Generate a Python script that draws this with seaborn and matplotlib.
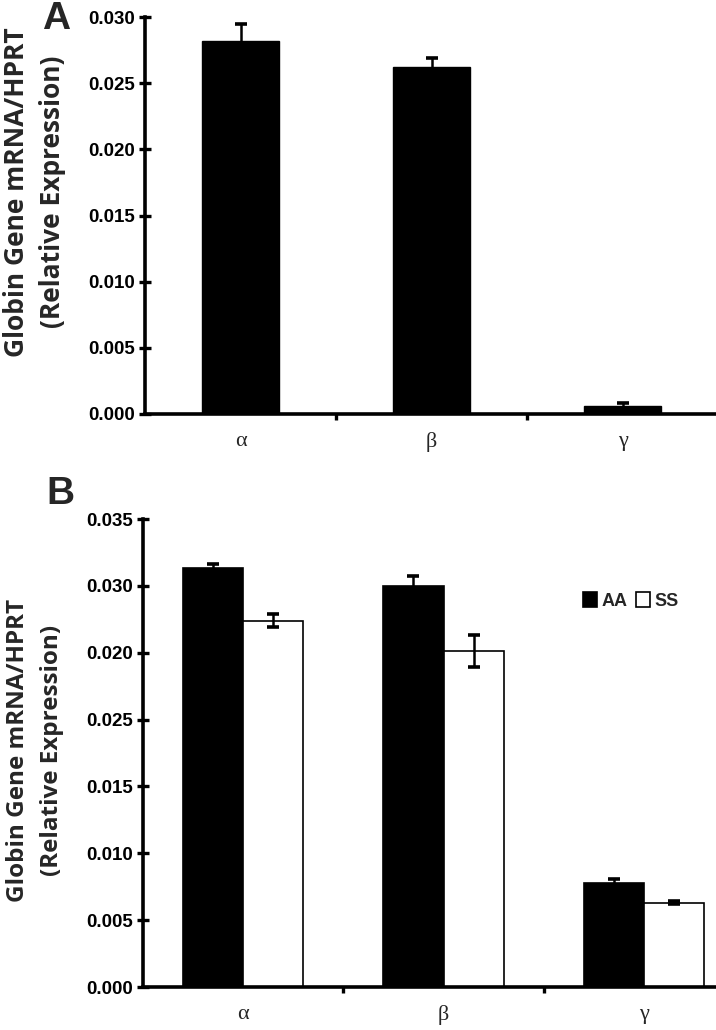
import numpy as np
import pandas as pd
import matplotlib
matplotlib.use("Agg")
import matplotlib.pyplot as plt
import seaborn as sns

# ---------------- data ----------------
genes = ["α", "β", "γ"]

# Panel A
a_values = [0.0282, 0.0262, 0.0006]
a_errors = [0.0013, 0.0007, 0.00025]

# Panel B
genotypes = ["AA", "SS"]
b_aa_values = [0.0313, 0.0300, 0.0078]
b_aa_errors = [0.0003, 0.0007, 0.0003]
b_ss_values = [0.0274, 0.0251, 0.0063]
b_ss_errors = [0.0005, 0.0012, 0.0001]

a_yticks = [0.000, 0.005, 0.010, 0.015, 0.020, 0.025, 0.030]
a_yticklabels = ["0.000", "0.005", "0.010", "0.015", "0.020", "0.025", "0.030"]
b_yticks = [0.000, 0.005, 0.010, 0.015, 0.020, 0.025, 0.030, 0.035]
b_yticklabels = ["0.000", "0.005", "0.010", "0.015", "0.025", "0.020", "0.030", "0.035"]

ylabel_lines = ["Globin Gene mRNA/HPRT", "(Relative Expression)"]

# ---------------- style ----------------
sns.set_theme(style="ticks")
plt.rcParams["font.family"] = ["Liberation Sans", "DejaVu Sans"]

fig = plt.figure(figsize=(7.16, 10.30), dpi=100)

W, H = 716, 1030
def frame(left, top, right, bottom):
    return [left / W, 1 - bottom / H, (right - left) / W, (bottom - top) / H]

axA = fig.add_axes(frame(145, 17, 718, 414))
axB = fig.add_axes(frame(143, 519, 716, 987))

spine_lw = 2.6
tick_font = dict(fontsize=13.5, fontweight="bold", family="Liberation Sans")
xfont = dict(fontsize=16, family="Liberation Serif")


def style_axis(ax, yticks, yticklabels, ymax):
    sns.despine(ax=ax)
    for s in ["left", "bottom"]:
        ax.spines[s].set_linewidth(spine_lw)
        ax.spines[s].set_color("black")
    ax.set_ylim(0, ymax)
    ax.set_yticks(yticks)
    ax.set_yticklabels(yticklabels, **tick_font)
    ax.tick_params(axis="y", direction="inout", length=8, width=2.4, pad=3, colors="black")
    ax.set_xticks([0, 1, 2])
    ax.set_xticklabels(genes, **xfont)
    ax.tick_params(axis="x", length=0, pad=13)
    ax.set_xticks([0.5, 1.5], minor=True)
    ax.tick_params(axis="x", which="minor", direction="out", length=4, width=2.4, color="black")
    ax.set_xlabel("")
    ax.set_ylabel("")
    ax.set_facecolor("white")


# ---------------- Panel A ----------------
dfA = pd.DataFrame({"gene": genes, "value": a_values})
sns.barplot(data=dfA, x="gene", y="value", color="black", edgecolor="black",
            width=0.4, errorbar=None, ax=axA, saturation=1)
for patch, err in zip(axA.patches, a_errors):
    xc = patch.get_x() + patch.get_width() / 2
    axA.errorbar(xc, patch.get_height(), yerr=err, fmt="none", ecolor="black",
                 elinewidth=1.8, capsize=4, capthick=2.6, zorder=3)
axA.set_xlim(-0.5, 2.5)
style_axis(axA, a_yticks, a_yticklabels, 0.030)

# ---------------- Panel B ----------------
dfB = pd.DataFrame({
    "gene": genes * 2,
    "genotype": [genotypes[0]] * 3 + [genotypes[1]] * 3,
    "value": b_aa_values + b_ss_values,
})
errB = b_aa_errors + b_ss_errors
sns.barplot(data=dfB, x="gene", y="value", hue="genotype", order=genes,
            hue_order=genotypes, palette={"AA": "black", "SS": "white"},
            edgecolor="black", linewidth=1.2, width=0.6, errorbar=None,
            ax=axB, saturation=1)
bars = [p for p in axB.patches if p.get_height() > 0][:6]
for patch, err in zip(bars, errB):
    xc = patch.get_x() + patch.get_width() / 2
    axB.errorbar(xc, patch.get_height(), yerr=err, fmt="none", ecolor="black",
                 elinewidth=1.8, capsize=4, capthick=2.6, zorder=3)
axB.set_xlim(-0.5, 2.36)
style_axis(axB, b_yticks, b_yticklabels, 0.035)

leg = axB.legend(loc="upper left", bbox_to_anchor=(0.755, 0.86), ncol=2, frameon=False,
                 handlelength=0.8, handleheight=0.95, handletextpad=0.25,
                 columnspacing=0.45, borderaxespad=0,
                 prop=dict(family="Liberation Sans", weight="bold", size=13))

# ---------------- labels ----------------
def ylabel(xs, yc, size):
    for x, line in zip(xs, ylabel_lines):
        fig.text(x / W, 1 - yc / H, line, rotation=90, ha="center", va="center",
                 fontsize=size, fontweight="bold", family="Open Sans")

ylabel([17, 52], 192, 19)
ylabel([18, 52], 750, 17.5)

fig.text(42 / W, 1 - 1 / H, "A", fontsize=28, fontweight="bold",
         family="Liberation Sans", ha="left", va="top")
fig.text(46 / W, 1 - 476 / H, "B", fontsize=28, fontweight="bold",
         family="Liberation Sans", ha="left", va="top")

fig.savefig("out.png", dpi=100, facecolor="white")
